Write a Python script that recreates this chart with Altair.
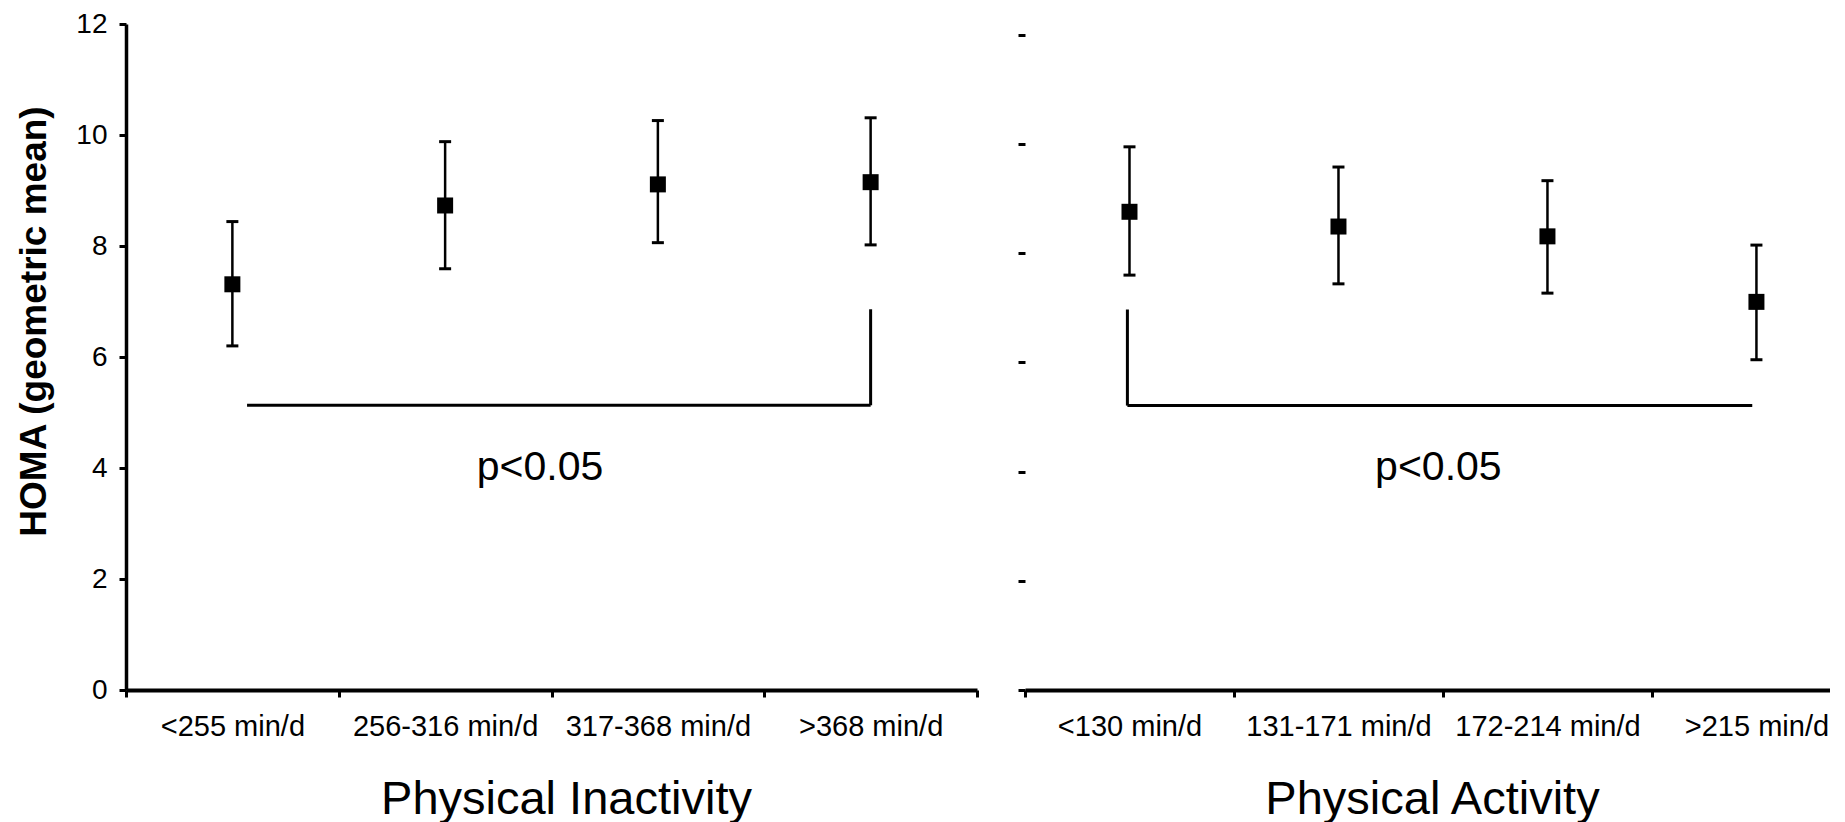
import json
import altair as alt
import pandas as pd

# ---- data ----
inact_cats = ["<255 min/d", "256-316 min/d", "317-368 min/d", ">368 min/d"]
inact_mean = [7.31, 8.73, 9.11, 9.15]
inact_lo = [6.20, 7.59, 8.06, 8.02]
inact_hi = [8.44, 9.88, 10.26, 10.31]

act_cats = ["<130 min/d", "131-171 min/d", "172-214 min/d", ">215 min/d"]
act_mean = [8.76, 8.49, 8.31, 7.11]
act_lo = [7.60, 7.44, 7.27, 6.05]
act_hi = [9.95, 9.58, 9.33, 8.15]

y_ticks = [0, 2, 4, 6, 8, 10, 12]
p_label = "p<0.05"

# bracket annotations (data units): [x_start, x_end, y_line, y_top_of_vertical, x_vertical]
inact_bracket = [0.569, 3.5, 5.13, 6.86, 3.5]
act_bracket = [0.49, 3.48, 5.21, 6.97, 0.49]
inact_ptext = [1.946, 3.775]
act_ptext = [1.978, 3.84]

FONT = "Liberation Sans"


def panel(cats, mean, lo, hi, xmax, ymax, width, height, xtitle, title_x,
          left_axis, bracket, ptext, tick_vals):
    n = len(cats)
    df = pd.DataFrame({
        "pos": [i + 0.5 for i in range(n)],
        "cat": cats, "mean": mean, "lo": lo, "hi": hi,
    })
    step = width / xmax
    xscale = alt.Scale(domain=[0, xmax], nice=False, zero=False)
    yscale = alt.Scale(domain=[0, ymax], nice=False, zero=True)
    labels_js = json.dumps(cats)
    xaxis = alt.Axis(
        values=tick_vals,
        labelExpr=f"datum.value < {n} ? {labels_js}[datum.value] : ''",
        labelOffset=step / 2,
        labelFontSize=29, labelPadding=15, labelOverlap=False, labelBound=False,
        labelFlush=False, labelLimit=0, labelColor="black", labelFont=FONT,
        tickSize=7, tickWidth=3, tickColor="black",
        domainWidth=4, domainColor="black", grid=False,
        title=xtitle, titleFontSize=47, titleFontWeight="normal", titleFont=FONT,
        titleColor="black", titleX=title_x, titleY=123, titleAlign="center",
        titleBaseline="alphabetic", titleLimit=0,
    )
    if left_axis:
        yaxis = alt.Axis(
            values=y_ticks, labelFontSize=28, labelPadding=12, labelColor="black",
            labelFont=FONT, tickSize=7, tickWidth=3, tickColor="black",
            domainWidth=3.5, domainColor="black", grid=False,
            title="HOMA (geometric mean)", titleFontSize=37, titleFontWeight="bold",
            titleFont=FONT, titleColor="black", titleX=-81, titleY=297,
            titleAlign="center", titleBaseline="alphabetic", titleLimit=0,
        )
    else:
        yaxis = alt.Axis(
            values=y_ticks, labels=False, domain=False, tickSize=7, tickWidth=3,
            tickColor="black", grid=False, title=None,
        )

    def X(field):
        return alt.X(field, scale=xscale, axis=xaxis)

    def Y(field):
        return alt.Y(field, scale=yscale, axis=yaxis)

    base = alt.Chart(df)
    err = base.mark_rule(color="black", strokeWidth=2.5).encode(
        x=X("pos:Q"), y=Y("lo:Q"), y2="hi:Q")
    cap_hi = base.mark_tick(color="black", orient="horizontal", size=12,
                            thickness=3, opacity=1).encode(x=X("pos:Q"), y=Y("hi:Q"))
    cap_lo = base.mark_tick(color="black", orient="horizontal", size=12,
                            thickness=3, opacity=1).encode(x=X("pos:Q"), y=Y("lo:Q"))
    pts = base.mark_square(color="black", size=256, opacity=1).encode(
        x=X("pos:Q"), y=Y("mean:Q"))

    bdf_h = pd.DataFrame({"x": [bracket[0]], "x2": [bracket[1]], "y": [bracket[2]]})
    bdf_v = pd.DataFrame({"x": [bracket[4]], "y": [bracket[2]], "y2": [bracket[3]]})
    br_h = alt.Chart(bdf_h).mark_rule(color="black", strokeWidth=3).encode(
        x=X("x:Q"), x2="x2:Q", y=Y("y:Q"))
    br_v = alt.Chart(bdf_v).mark_rule(color="black", strokeWidth=3).encode(
        x=X("x:Q"), y=Y("y:Q"), y2="y2:Q")

    tdf = pd.DataFrame({"x": [ptext[0]], "y": [ptext[1]], "t": [p_label]})
    txt = alt.Chart(tdf).mark_text(font=FONT, fontSize=41, color="black",
                                   align="center", baseline="alphabetic").encode(
        x=X("x:Q"), y=Y("y:Q"), text="t:N")

    return alt.layer(err, cap_hi, cap_lo, pts, br_h, br_v, txt).properties(
        width=width, height=height)


left = panel(inact_cats, inact_mean, inact_lo, inact_hi, 4.0, 12.0, 851, 666,
             "Physical Inactivity", 440, True, inact_bracket, inact_ptext,
             [0, 1, 2, 3, 4])
right = panel(act_cats, act_mean, act_lo, act_hi, 3.852, 12.2, 805, 666,
              "Physical Activity", 407, False, act_bracket, act_ptext,
              [0, 1, 2, 3])

chart = alt.hconcat(left, right, spacing=48, bounds="flush").properties(
    padding={"left": 7, "top": 2, "right": 0, "bottom": 0},
    background="white",
).configure_view(stroke=None)

chart.save("out.html", embed_options={"renderer": "svg", "actions": False})
